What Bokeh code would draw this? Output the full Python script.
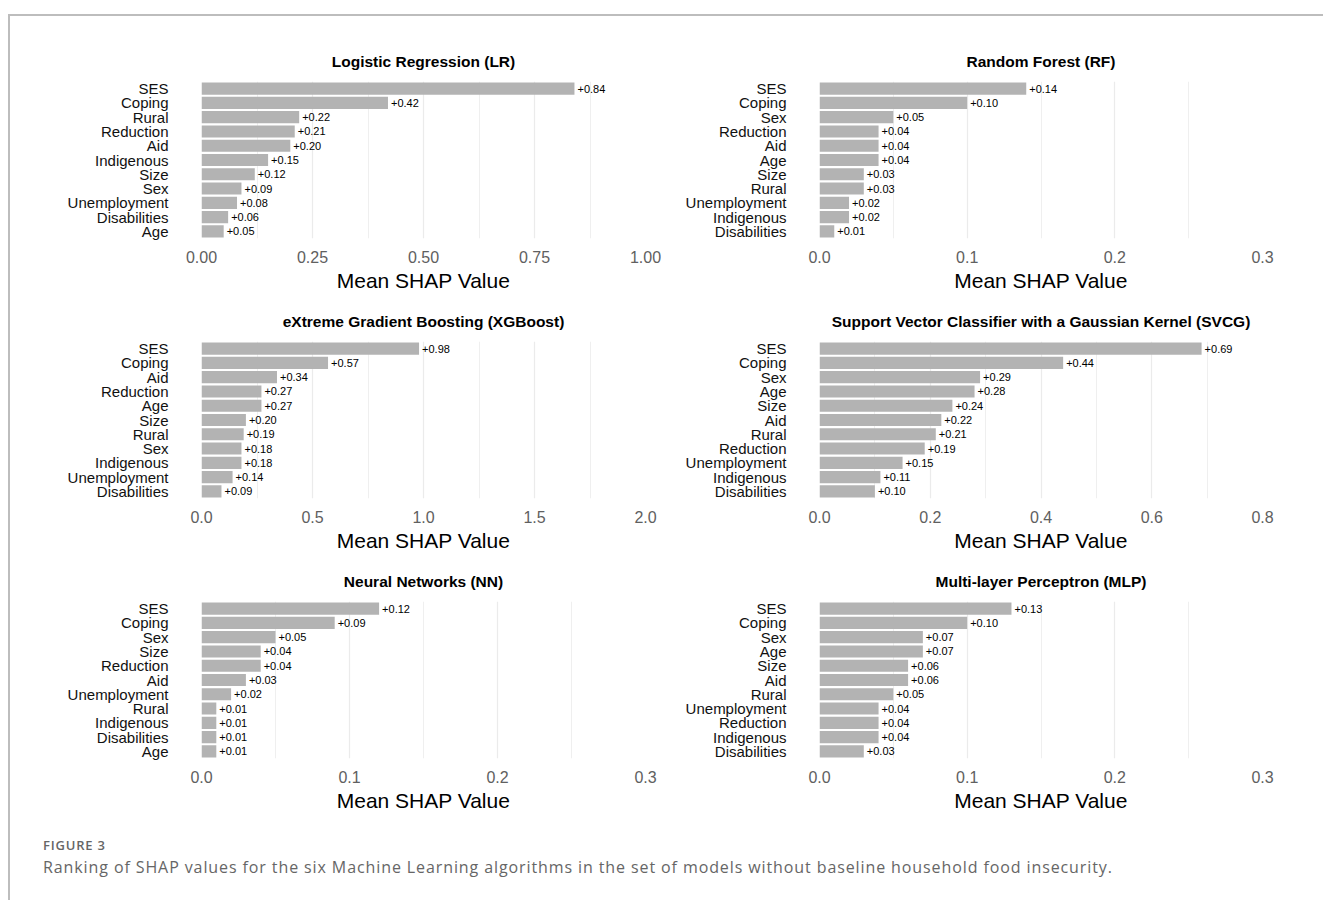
from bokeh.plotting import figure
from bokeh.layouts import column, row
from bokeh.models import Range1d, FactorRange, FixedTicker, NumeralTickFormatter, Div, ColumnDataSource, Spacer
from bokeh.core.properties import value
from bokeh.embed import file_html
from bokeh.resources import INLINE

# ---------------- data ----------------
lr_features = ["SES", "Coping", "Rural", "Reduction", "Aid", "Indigenous", "Size", "Sex", "Unemployment", "Disabilities", "Age"]
lr_values = [0.84, 0.42, 0.22, 0.21, 0.20, 0.15, 0.12, 0.09, 0.08, 0.06, 0.05]

rf_features = ["SES", "Coping", "Sex", "Reduction", "Aid", "Age", "Size", "Rural", "Unemployment", "Indigenous", "Disabilities"]
rf_values = [0.14, 0.10, 0.05, 0.04, 0.04, 0.04, 0.03, 0.03, 0.02, 0.02, 0.01]

xgb_features = ["SES", "Coping", "Aid", "Reduction", "Age", "Size", "Rural", "Sex", "Indigenous", "Unemployment", "Disabilities"]
xgb_values = [0.98, 0.57, 0.34, 0.27, 0.27, 0.20, 0.19, 0.18, 0.18, 0.14, 0.09]

svcg_features = ["SES", "Coping", "Sex", "Age", "Size", "Aid", "Rural", "Reduction", "Unemployment", "Indigenous", "Disabilities"]
svcg_values = [0.69, 0.44, 0.29, 0.28, 0.24, 0.22, 0.21, 0.19, 0.15, 0.11, 0.10]

nn_features = ["SES", "Coping", "Sex", "Size", "Reduction", "Aid", "Unemployment", "Rural", "Indigenous", "Disabilities", "Age"]
nn_values = [0.12, 0.09, 0.05, 0.04, 0.04, 0.03, 0.02, 0.01, 0.01, 0.01, 0.01]

mlp_features = ["SES", "Coping", "Sex", "Age", "Size", "Aid", "Rural", "Unemployment", "Reduction", "Indigenous", "Disabilities"]
mlp_values = [0.13, 0.10, 0.07, 0.07, 0.06, 0.06, 0.05, 0.04, 0.04, 0.04, 0.03]

titles = ["Logistic Regression (LR)", "Random Forest (RF)",
          "eXtreme Gradient Boosting (XGBoost)", "Support Vector Classifier with a Gaussian Kernel (SVCG)",
          "Neural Networks (NN)", "Multi-layer Perceptron (MLP)"]

lr_ticks = [0, 0.25, 0.5, 0.75, 1.0]
rf_ticks = [0, 0.1, 0.2, 0.3]
xgb_ticks = [0, 0.5, 1.0, 1.5, 2.0]
svcg_ticks = [0, 0.2, 0.4, 0.6, 0.8]
nn_ticks = [0, 0.1, 0.2, 0.3]
mlp_ticks = [0, 0.1, 0.2, 0.3]

FONT = "Liberation Sans"
BAR = "#b3b3b3"
GRID = "#ebebeb"
FRAME = "#bdbdbd"


def panel(title, feats, vals, ticks, fmt, width, height, bl, br, bt, bb):
    p = figure(width=width, height=height, output_backend="svg", toolbar_location=None,
               y_range=FactorRange(factors=list(reversed(feats))),
               x_range=Range1d(ticks[0], ticks[-1]),
               min_border_left=bl, min_border_right=br, min_border_top=bt, min_border_bottom=bb,
               title=title, margin=0)
    p.outline_line_color = None
    p.background_fill_color = "white"
    p.border_fill_color = "white"
    p.title.text_font = FONT
    p.title.text_font_style = "bold"
    p.title.text_font_size = "15.5px"
    p.title.align = "center"
    p.title.text_color = "#000000"
    p.title.standoff = 24

    src = ColumnDataSource(dict(f=feats, v=vals, lab=["+%.2f" % v for v in vals]))
    p.hbar(y="f", right="v", left=0, height=0.85, source=src, fill_color=BAR, line_color=None)
    p.text(x="v", y="f", text="lab", source=src, x_offset=3, text_baseline="middle",
           text_align="left", text_font=value(FONT), text_font_size="11px", text_color="#000000")

    step = ticks[1] - ticks[0]
    minor = [t + step / 2 for t in ticks[:-1]]
    p.xaxis.ticker = FixedTicker(ticks=ticks, minor_ticks=minor)
    p.xaxis.formatter = NumeralTickFormatter(format=fmt)
    p.xgrid.grid_line_color = GRID
    p.xgrid.grid_line_width = 1.2
    p.xgrid.minor_grid_line_color = GRID
    p.xgrid.minor_grid_line_width = 0.8
    p.ygrid.grid_line_color = None

    p.xaxis.axis_label = "Mean SHAP Value"
    p.xaxis.axis_label_text_font = FONT
    p.xaxis.axis_label_text_font_style = "normal"
    p.xaxis.axis_label_text_font_size = "21px"
    p.xaxis.axis_label_text_color = "#000000"
    p.xaxis.axis_label_standoff = 3
    p.xaxis.major_label_text_font = FONT
    p.xaxis.major_label_text_font_size = "16px"
    p.xaxis.major_label_text_color = "#606060"
    p.xaxis.major_label_standoff = 12

    for ax in (p.xaxis, p.yaxis):
        ax.axis_line_color = None
        ax.major_tick_line_color = None
        ax.minor_tick_line_color = None
        ax.major_tick_out = 0
        ax.major_tick_in = 0
        ax.minor_tick_out = 0
    p.yaxis.major_label_text_font = FONT
    p.yaxis.major_label_text_font_size = "15px"
    p.yaxis.major_label_text_color = "#111111"
    p.yaxis.major_label_standoff = 33
    return p


LW, RW = 655, 650
LBL, LBR = 191, 20
RBL, RBR = 154, 53

specs = [
    (lr_features, lr_values, lr_ticks, "0.00"),
    (rf_features, rf_values, rf_ticks, "0.0"),
    (xgb_features, xgb_values, xgb_ticks, "0.0"),
    (svcg_features, svcg_values, svcg_ticks, "0.0"),
    (nn_features, nn_values, nn_ticks, "0.0"),
    (mlp_features, mlp_values, mlp_ticks, "0.0"),
]

ROW1_H = 280
rows = []
for r in range(3):
    if r == 0:
        h, bt = ROW1_H, 65
    else:
        h, bt = 260, 45
    figs = []
    for c in range(2):
        i = r * 2 + c
        feats, vals, ticks, fmt = specs[i]
        if c == 0:
            figs.append(panel(titles[i], feats, vals, ticks, fmt, LW, h, LBL, LBR, bt, 58))
        else:
            figs.append(panel(titles[i], feats, vals, ticks, fmt, RW, h, RBL, RBR, bt, 58))
    rows.append(row(*figs, spacing=0, margin=0))

CAP_H = 84
caption = Div(
    text=('<div style="padding:20px 0 0 33px;font-family:\'Open Sans\';color:#666666;white-space:nowrap;">'
          '<div style="font-size:13px;font-weight:600;letter-spacing:0.8px;line-height:18px;">FIGURE 3</div>'
          '<div style="font-size:16px;letter-spacing:0.9px;line-height:22px;margin-top:2px;">Ranking of SHAP values for the six Machine Learning '
          'algorithms in the set of models without baseline household food insecurity.</div></div>'),
    width=1305, height=CAP_H, margin=0)

top_line = Div(text="", width=1313, height=2, margin=0, styles={"background-color": FRAME})
inner_h = 2 + ROW1_H + 260 + 260 + CAP_H
left_line = Div(text="", width=2, height=inner_h, margin=0, styles={"background-color": FRAME})

inner = column(top_line, *rows, caption, spacing=0, margin=0)
layout = column(Spacer(width=1315, height=14, margin=0),
                row(Spacer(width=8, height=inner_h, margin=0), left_line, inner, spacing=0, margin=0),
                spacing=0, margin=0)

open("out.html", "w").write(file_html(layout, INLINE))
